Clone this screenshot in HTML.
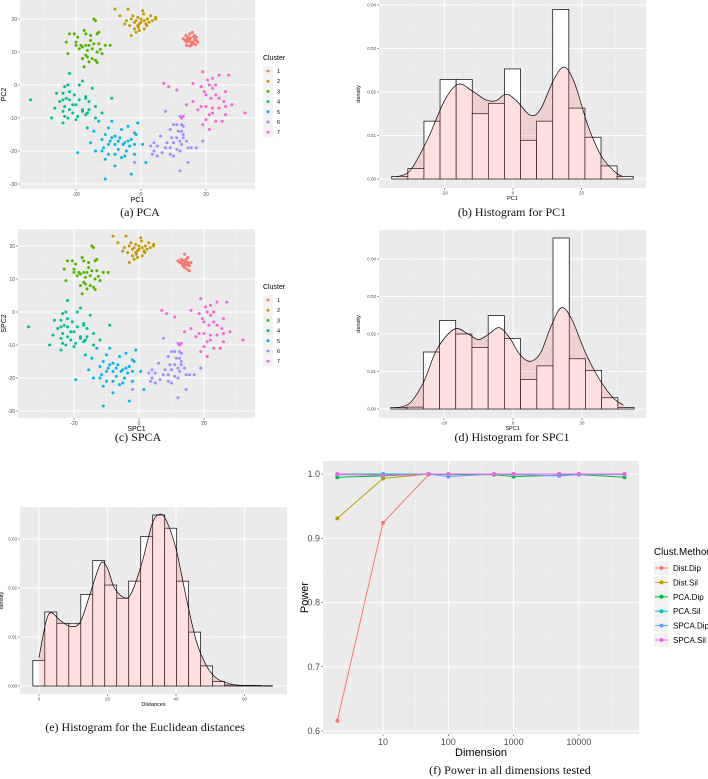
<!DOCTYPE html>
<html><head><meta charset="utf-8"><style>
html,body{margin:0;padding:0;background:#fff;width:708px;height:779px;overflow:hidden}
svg text{font-family:"Liberation Sans",sans-serif}
.cap{font-family:"Liberation Serif",serif;font-size:12px;fill:#111}
</style></head><body>
<svg id="fig" width="708" height="779" viewBox="0 0 708 779" xmlns="http://www.w3.org/2000/svg">
<text class="cap" x="140" y="216" text-anchor="middle">(a) PCA</text>
<text class="cap" x="512" y="216" text-anchor="middle">(b) Histogram for PC1</text>
<text class="cap" x="138" y="441" text-anchor="middle">(c) SPCA</text>
<text class="cap" x="512" y="441" text-anchor="middle">(d) Histogram for SPC1</text>
<text class="cap" x="145" y="731" text-anchor="middle">(e) Histogram for the Euclidean distances</text>
<text class="cap" x="510" y="774" text-anchor="middle">(f) Power in all dimensions tested</text>
</svg>
<script>
// ---------- data ----------
const clusterColors=["#F8766D","#C49A00","#53B400","#00C094","#00B6EB","#A58AFF","#FB61D7"];
const clusterLabels=["1","2","3","4","5","6","7"];
const c1=[[14,13],[15,14],[16,13],[17,13.5],[15.5,12],[14.5,14.5],[16.5,15],[13.5,13.5],[15,15.5],[16,12.5],[17,14.5],[14,12],[15.5,13],[16.5,13.8],[13,14],[15,11.8],[16.8,12.2],[14.8,13.3],[15.8,16],[13.8,15],[17.5,13],[15.2,14.2],[16.2,14.6],[14.2,13.9],[15.6,12.6]];
const c2=[[-8,23],[-4,23],[0.5,22.5],[-6.5,21],[-1,20.5],[0,20],[2,20],[3,21],[4.5,20.5],[4.5,20],[-3,20],[-1.5,19.5],[0,19],[1,19.5],[-2,19],[-0.5,18.5],[1.5,18.5],[-5,18.5],[-3.5,18],[-0.8,17.5],[1,17],[-2,17],[-1.5,16],[-3,15],[-0.5,16.5],[2.5,19],[-2.5,21],[0.8,21.5],[-4.5,19.5],[1.8,18],[3.5,19.5],[-1,18]];
const c3=[[-14.5,20],[-14,19.5],[-22,15.5],[-20.5,15.5],[-19.5,14.5],[-17.5,16.5],[-17,15.5],[-15.5,15],[-13,16],[-13.5,15.5],[-23,13],[-20,12],[-18.5,12],[-17,12],[-16,12],[-14.5,12.5],[-13,12.5],[-11,12],[-9.5,12],[-19,11],[-18,11.5],[-15,11],[-16.5,10.5],[-13.5,10],[-22.5,9.5],[-17,9],[-16.5,8.5],[-15,8],[-12,9.5],[-18,8],[-14,7.5],[-13.5,6.8],[-16,7],[-17.5,5.5],[-20,13],[-15.5,13.5],[-12.5,10.8]];
const c4=[[-34,-4.5],[-22,3.5],[-18,1.2],[-22.5,0],[-19,0],[-23.5,-0.5],[-15,-1],[-26,-2.5],[-24,-2.5],[-22,-2],[-20.5,-3],[-23,-4],[-22,-4.5],[-24,-4.5],[-25,-5],[-19,-4.5],[-17,-3.5],[-16,-5],[-17,-4],[-9,-4],[-21,-6],[-23.5,-6.5],[-20,-6],[-14,-6.5],[-18,-7.5],[-16,-7.5],[-26.5,-7],[-22,-7.5],[-24,-8],[-21,-8.5],[-16.5,-8.5],[-12,-8.5],[-23.5,-9.5],[-22.5,-10],[-19.5,-9.5],[-17,-9],[-27.5,-10],[-20,-10.5],[-14,-10],[-24,-11.5],[-16.5,-13],[-18,-8]];
const c5=[[-13,-11],[-9,-11],[-4,-12.5],[-1,-11.5],[-14.5,-14],[-10,-13],[-6,-13.5],[-2,-14.5],[-11,-15],[-9,-16],[-8,-15.5],[-1.5,-15],[-12,-16.5],[-9.5,-17],[-7,-17],[-5,-17.5],[-4,-17],[-3,-16.5],[-10,-18],[-8,-18],[-5.5,-18],[-3.5,-18.5],[-2,-18],[0.5,-18],[-11.5,-19],[-7,-19.5],[-12,-20],[-10,-21],[-8,-21],[-5,-21.5],[-2,-21],[-14,-20],[-15.5,-17.5],[-6,-22],[-11,-22.5],[-8,-24.5],[-3,-27],[-11,-28.5],[-19.5,-20.5],[1.5,-23.5],[-4.5,-20],[-6.5,-16]];
const c6=[[7.5,-8],[12,-9.5],[10,-12],[11,-12],[12.5,-12],[13,-12.5],[9,-13.5],[11.5,-14],[12.5,-14],[13,-15],[6,-15.5],[9.5,-16],[11,-16],[14,-17],[12,-17],[4,-17.5],[8,-17.5],[10,-17.5],[12.5,-18],[3,-18.5],[5,-18.5],[7.5,-19],[9,-19],[11,-19.5],[14.5,-19],[15.5,-19],[17,-19],[4,-20],[6.5,-20.5],[9,-21],[10,-21.5],[3.5,-21],[5,-21.5],[12,-20],[-2,-23.5],[12,-26],[14.5,-23.5],[19,-17],[13,-16]];
const c7=[[19,4],[24,3],[27,3],[22,2],[20.5,1.5],[16,0.5],[7,0.5],[8.5,-0.5],[18.5,-0.5],[21,0],[23,0],[11,-1.5],[19.5,-2],[22,-1],[26,-2],[20,-3],[23,-3],[24,-4],[16,-5],[21.5,-4],[25.5,-5],[28,-6],[14,-6],[18.5,-6.5],[20,-6.5],[22,-7],[24,-7],[26,-6.5],[17.5,-7.5],[22,-8.5],[13,-9.5],[21,-9],[26,-9],[32,-8.5],[20,-10.5],[23,-11],[25,-11],[19,-12],[21,-13.5],[12.5,-10]];
const pcaClusters=[c1,c2,c3,c4,c5,c6,c7];
const s1=[[13,15],[14,14.5],[15,15],[14.5,16],[13.5,14],[15.5,14],[14,13.5],[12.5,15],[15,16.5],[14,17.5],[16,15],[13,16],[14.8,13],[15.5,12.5],[12,15.5],[14.2,15.2],[13.6,15.6],[15.2,14.5],[13.2,14.6],[14.6,14.2]];
const spcaClusters=[s1,c2,c3,c4,c5,c6,c7];

const histEdgesPC1=[-35.4,-30.7,-26,-21.3,-16.6,-11.9,-7.2,-2.5,2.2,6.9,11.6,16.3,21,25.7,30.4,35.1];
const histDensPC1=[0.0006,0.0024,0.0133,0.0229,0.0229,0.015,0.0174,0.0253,0.0089,0.0133,0.039,0.0163,0.0096,0.003,0.0006];
const kdeXPC1=[-34,-30,-25,-20,-16,-12,-8,-5,-2,1,5,8,12,15,18,22,26,30,32];
const kdeYPC1=[0.0005,0.002,0.009,0.018,0.0218,0.0203,0.0182,0.018,0.0195,0.018,0.0147,0.016,0.023,0.0257,0.022,0.012,0.005,0.0015,0.0006];

const histDensSPC1=[0.0004,0.0005,0.0152,0.0236,0.020,0.0164,0.0249,0.0188,0.0079,0.0115,0.0456,0.0134,0.0103,0.003,0.0004];
const kdeXSPC1=[-34,-30,-26,-22,-17,-13,-10,-7,-4,-1,2,5,8,11,14,17,21,25,29,32];
const kdeYSPC1=[0.0003,0.0015,0.007,0.016,0.0213,0.020,0.0185,0.020,0.0217,0.019,0.0145,0.0127,0.015,0.022,0.027,0.024,0.015,0.008,0.003,0.001];

const histEdgesDist=[-1.8,1.7,5.2,8.7,12.2,15.7,19.2,22.7,26.2,29.7,33.2,36.7,40.2,43.7,47.2,50.7,54.2,57.7,61.2,64.7,68.2];
const histDensDist=[0.0052,0.0151,0.0128,0.0127,0.0187,0.0256,0.0206,0.0179,0.0214,0.0305,0.0349,0.0322,0.0214,0.011,0.0041,0.0009,0.0002,0.0001,0.0001,0.00005];
const kdeXDist=[0,2,3.5,6,9,12,15,18,20,22,25,27,30,33,35,37,40,43,46,49,52,56,60,68];
const kdeYDist=[0.0058,0.013,0.015,0.0135,0.0122,0.013,0.019,0.025,0.024,0.020,0.018,0.019,0.025,0.033,0.035,0.034,0.028,0.018,0.009,0.004,0.0015,0.0004,0.0001,0];

const dims=[2,10,50,100,500,1000,5000,10000,50000];
const methods=["Dist.Dip","Dist.Sil","PCA.Dip","PCA.Sil","SPCA.Dip","SPCA.Sil"];
const methodColors=["#F8766D","#B79F00","#00BA38","#00BFC4","#619CFF","#F564E3"];
const powDistDip=[0.616,0.924,0.999,1,1,1,1,1,1];
const powDistSil=[0.931,0.993,1,1,1,1,1,1,1];
const powPCADip=[0.995,0.997,1,0.999,0.999,0.996,0.998,0.999,0.995];
const powPCASil=[1,1,1,1,1,1,1,1,1];
const powSPCADip=[0.999,0.998,1,0.996,1,0.999,0.997,0.999,0.999];
const powSPCASil=[1,0.998,1,1,1,1,1,1,1];
const powerSeries=[powDistDip,powDistSil,powPCADip,powPCASil,powSPCADip,powSPCASil];

// ---------- helpers ----------
const NS="http://www.w3.org/2000/svg";
const svg=document.getElementById('fig');
function mk(tag,attrs,parent){const e=document.createElementNS(NS,tag);for(const k in attrs)e.setAttribute(k,attrs[k]);(parent||svg).appendChild(e);return e;}
function lin(d0,d1,r0,r1){return v=>r0+(v-d0)*(r1-r0)/(d1-d0);}

function panel(name,L,T,R,B,xs,ys,xMaj,xMin,yMaj,yMin,xLab,yLab,fs,tickFmtY,tickLabX){
  const g=mk('g',{});
  
  
  const bg=mk('rect',{x:L,y:T,width:R-L,height:B-T,fill:'#EBEBEB'},g);
  
  
  xMin.forEach(v=>mk('line',{x1:xs(v),x2:xs(v),y1:T,y2:B,stroke:'#F5F5F5','stroke-width':0.5},g));
  yMin.forEach(v=>mk('line',{y1:ys(v),y2:ys(v),x1:L,x2:R,stroke:'#F5F5F5','stroke-width':0.5},g));
  xMaj.forEach(v=>mk('line',{x1:xs(v),x2:xs(v),y1:T,y2:B,stroke:'#fff','stroke-width':1},g));
  yMaj.forEach(v=>mk('line',{y1:ys(v),y2:ys(v),x1:L,x2:R,stroke:'#fff','stroke-width':1},g));
  xMaj.forEach((v,i)=>{mk('line',{x1:xs(v),x2:xs(v),y1:B,y2:B+2,stroke:'#333','stroke-width':0.5},g);
    const t=mk('text',{x:xs(v),y:B+2+fs,'font-size':fs,fill:'#4D4D4D','text-anchor':'middle'},g);t.textContent=tickLabX?tickLabX[i]:v;
    });
  yMaj.forEach(v=>{mk('line',{x1:L-2,x2:L,y1:ys(v),y2:ys(v),stroke:'#333','stroke-width':0.5},g);
    const t=mk('text',{x:L-3,y:ys(v)+fs*0.35,'font-size':fs,fill:'#4D4D4D','text-anchor':'end'},g);t.textContent=tickFmtY(v);
    });
  const xt=mk('text',{x:(L+R)/2,y:B+xLab[1],'font-size':xLab[2],fill:'#000','text-anchor':'middle'},g);xt.textContent=xLab[0];
  
  const yx=yLab[1],yy=(T+B)/2;
  const yt=mk('text',{x:yx,y:yy,'font-size':yLab[2],fill:'#000','text-anchor':'middle',transform:`rotate(-90 ${yx} ${yy})`},g);yt.textContent=yLab[0];
  
  return g;
}

function scatter(name,L,T,R,B,xs,ys,clusters,yAxisName,xAxisName,legY){
  const g=panel(name,L,T,R,B,xs,ys,[-20,0,20],[-30,-10,10,30],[20,10,0,-10,-20,-30],[25,15,5,-5,-15,-25],[xAxisName,13,7],[yAxisName,6,7],5,v=>v);
  clusters.forEach((pts,ci)=>{
    const cg=mk('g',{},g);
    
    
    pts.forEach(p=>mk('circle',{cx:xs(p[0]),cy:ys(p[1]),r:1.5,fill:clusterColors[ci]},cg));
  });
  const lg=mk('g',{});
  
  
  const lt=mk('text',{x:263,y:legY,'font-size':7,fill:'#000'},lg);lt.textContent='Cluster';
  clusterLabels.forEach((lab,i)=>{
    const yy=legY+11+i*10.2;
    mk('rect',{x:263,y:yy-5,width:10,height:10,fill:'#F2F2F2'},lg);
    const c=mk('circle',{cx:268,cy:yy,r:1.5,fill:clusterColors[i]},lg);
    
    const t=mk('text',{x:277,y:yy+2,'font-size':5.5,fill:'#000'},lg);t.textContent=lab;
    
  });
}

function hist(name,L,T,R,B,xs,ys,edges,dens,kx,ky,yMaj,xMaj,xMin,xLab,yLabX){
  const yMin=yMaj.slice(0,-1).map((v,i)=>(v+yMaj[i+1])/2);
  const g=panel(name,L,T,R,B,xs,ys,xMaj,xMin,yMaj,yMin,[xLab,12,5.5],['density',yLabX,5.5],4.5,v=>v.toFixed(2));
  dens.forEach((d,i)=>{
    const r=mk('rect',{x:xs(edges[i]),y:ys(d),width:xs(edges[i+1])-xs(edges[i]),height:ys(0)-ys(d),fill:'#fff',stroke:'#000','stroke-width':0.7},g);
    
  });
  const pts=kx.map((x,i)=>[xs(x),ys(ky[i])]);
  let d='M'+pts[0][0]+','+pts[0][1];
  for(let i=0;i<pts.length-1;i++){
    const p0=pts[Math.max(0,i-1)],p1=pts[i],p2=pts[i+1],p3=pts[Math.min(pts.length-1,i+2)];
    d+=` C${p1[0]+(p2[0]-p0[0])/6},${p1[1]+(p2[1]-p0[1])/6} ${p2[0]-(p3[0]-p1[0])/6},${p2[1]-(p3[1]-p1[1])/6} ${p2[0]},${p2[1]}`;
  }
  const area=mk('path',{d:d+` L${pts[pts.length-1][0]},${ys(0)} L${pts[0][0]},${ys(0)} Z`,fill:'#FF6666','fill-opacity':0.2,stroke:'none'},g);
  
  const ln=mk('path',{d:d,fill:'none',stroke:'#000','stroke-width':0.7},g);
  
}

scatter('pca-scatter',20,0,255,189,lin(0,20,141,206),lin(0,10,85,52),pcaClusters,'PC2','PC1',60);
scatter('spca-scatter',18,229,255,418,lin(0,20,139,204),lin(0,10,312,279),spcaClusters,'SPC2','SPC1',289);
hist('pc1-histogram',379,0,646,188,lin(0,20,513,581.5),lin(0,0.01,179,135.5),histEdgesPC1,histDensPC1,kdeXPC1,kdeYPC1,[0,0.01,0.02,0.03,0.04],[-20,0,20],[-30,-10,10,30],'PC1',360);
hist('spc1-histogram',379,230,646,418,lin(0,20,513,582),lin(0,0.01,409,371.5),histEdgesPC1,histDensSPC1,kdeXSPC1,kdeYSPC1,[0,0.01,0.02,0.03,0.04],[-20,0,20],[-30,-10,10,30],'SPC1',360);
hist('distance-histogram',20,507,287,694,lin(0,20,39,107.5),lin(0,0.01,686,637),histEdgesDist,histDensDist,kdeXDist,kdeYDist,[0,0.01,0.02,0.03],[0,20,40,60],[10,30,50],'Distances',3);

(function(){
  const L=323,T=461,R=639,B=734;
  const xs=v=>383+(Math.log10(v)-1)*65.3;
  const ys=lin(1.0,0.6,474,731);
  const xMaj=[10,100,1000,10000], xMin=[3.162,31.62,316.2,3162,31623];
  const g=panel('power-chart',L,T,R,B,xs,ys,xMaj,xMin,[0.6,0.7,0.8,0.9,1.0],[0.65,0.75,0.85,0.95],['Dimension',22,11],['Power',308,11],9,v=>v.toFixed(1));
  powerSeries.forEach((vals,si)=>{
    const sg=mk('g',{},g);
    
    
    mk('polyline',{points:dims.map((d,i)=>xs(d)+','+ys(vals[i])).join(' '),fill:'none',stroke:methodColors[si],'stroke-width':1},sg);
    dims.forEach((d,i)=>mk('circle',{cx:xs(d),cy:ys(vals[i]),r:2,fill:methodColors[si]},sg));
  });
  const lg=mk('g',{});
  
  
  const lt=mk('text',{x:654,y:555,'font-size':9.8,fill:'#000'},lg);lt.textContent='Clust.Method';
  methods.forEach((m,i)=>{
    const yy=568+i*14.4;
    mk('rect',{x:654,y:yy-7,width:15,height:14,fill:'#F2F2F2'},lg);
    mk('line',{x1:655,x2:668,y1:yy,y2:yy,stroke:methodColors[i],'stroke-width':1},lg);
    const c=mk('circle',{cx:661.5,cy:yy,r:2,fill:methodColors[i]},lg);
    
    const t=mk('text',{x:673,y:yy+3,'font-size':8,fill:'#000'},lg);t.textContent=m;
    
  });
})();
</script>
</body></html>
